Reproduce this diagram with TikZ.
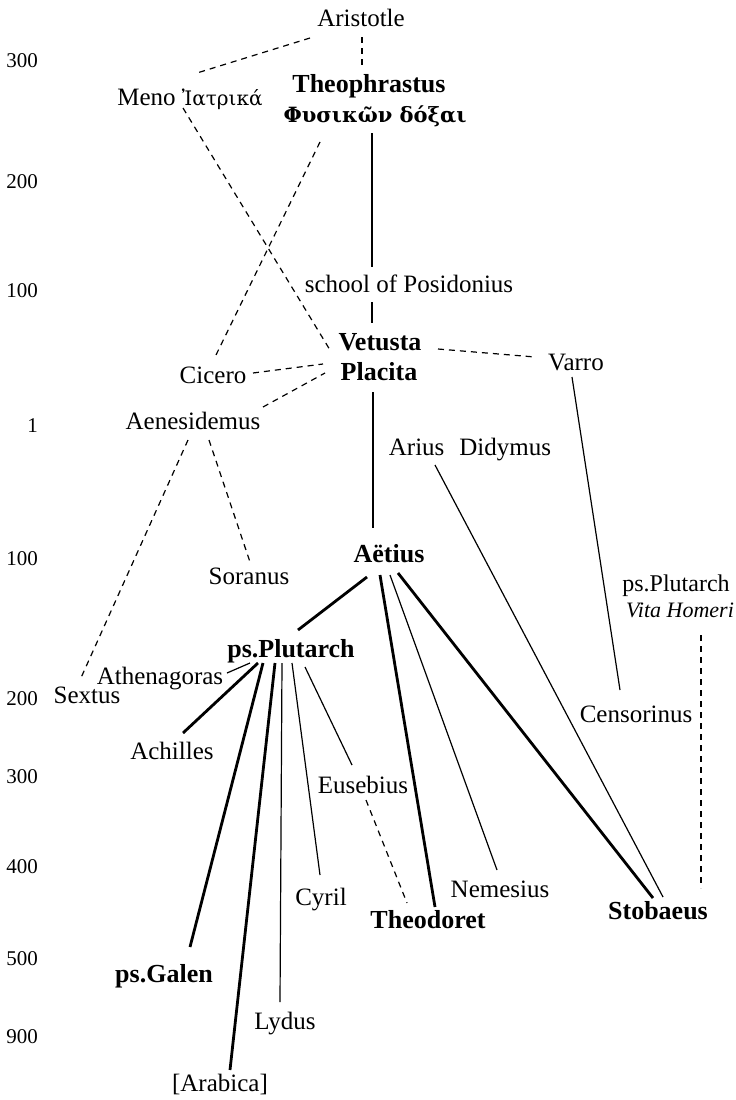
\documentclass[tikz,border=0pt]{standalone}
\usepackage{fontspec}
\setmainfont{Liberation Serif}
\newfontfamily\greekfont{DejaVu Serif}
\usetikzlibrary{positioning}

\begin{document}
\begin{tikzpicture}[x=1pt,y=-1pt,
    author/.style={anchor=base,inner sep=0pt,font=\fontsize{25}{30}\selectfont},
    mainsource/.style={anchor=base,inner sep=0pt,font=\fontsize{26}{31}\selectfont\bfseries},
    century/.style={anchor=base east,inner sep=0pt,font=\fontsize{21}{25}\selectfont},
    heavy/.style={line width=2.8pt},
    light/.style={line width=1.2pt},
    doubtful/.style={line width=1.2pt,dash pattern=on 6pt off 5pt}]
\useasboundingbox (0,0) rectangle (736,1100);

% centuries B.C. / A.D.
\foreach \yr/\ypos in {300/67,200/188,100/297,1/432,100/565,200/705,300/783,400/873,500/965,900/1043}
    \node[century] (yr\ypos) at (38,\ypos) {\yr};

% sources
\node[author] (aristotle) at (361,27) {Aristotle};
\node[author] (meno) at (190,105) {Meno {\greekfont\fontsize{20}{24}\selectfont Ἰατρικά}};
\node[mainsource] (theo) at (369,92) {Theophrastus};
\node[mainsource,font=\greekfont\fontsize{21}{25}\selectfont\bfseries] (theogr) at (375,122) {Φυσικῶν δόξαι};
\node[author] (school) at (409,292) {school of Posidonius};
\node[mainsource] (vetusta) at (380,350) {Vetusta};
\node[mainsource] (placita) at (379,380) {Placita};
\node[author] (cicero) at (213,383) {Cicero};
\node[author] (aenesidemus) at (193,429) {Aenesidemus};
\node[author] (varro) at (576,370) {Varro};
\node[author] (arius) at (470,455) {Arius\hspace{0.6em}Didymus};
\node[mainsource] (aetius) at (389,562) {Aëtius};
\node[author] (soranus) at (249,584) {Soranus};
\node[author,font=\fontsize{24}{28}\selectfont] (vitaauthor) at (676,591) {ps.Plutarch};
\node[author,font=\fontsize{22}{26}\selectfont\itshape] (vita) at (680,617) {Vita Homeri};
\node[mainsource] (psplutarch) at (291,657) {ps.Plutarch};
\node[author] (athenagoras) at (160,684) {Athenagoras};
\node[author] (sextus) at (87,703) {Sextus};
\node[author] (censorinus) at (636,722) {Censorinus};
\node[author] (achilles) at (172,759) {Achilles};
\node[author] (eusebius) at (363,793) {Eusebius};
\node[author] (cyril) at (321,905) {Cyril};
\node[author] (nemesius) at (500,897) {Nemesius};
\node[mainsource] (theodoret) at (428,928) {Theodoret};
\node[mainsource] (stobaeus) at (658,919) {Stobaeus};
\node[mainsource] (psgalen) at (164,982) {ps.Galen};
\node[author] (lydus) at (285,1029) {Lydus};
\node[author] (arabica) at (220,1091) {[Arabica]};

% uncertain dependence
\draw[doubtful] ([shift={(-51,11)}]aristotle.base) -- ([shift={(7,-32)}]meno.base);
\draw[doubtful] ([shift={(1,10)}]aristotle.base) -- ([shift={(-7,-27)}]theo.base);
\draw[doubtful] ([shift={(-7,3)}]meno.base) -- ([shift={(-50,0)}]vetusta.base);
\draw[doubtful] ([shift={(-55,20)}]theogr.base) -- ([shift={(2,-26)}]cicero.base);
\draw[doubtful] ([shift={(40,-10)}]cicero.base) -- ([shift={(-57,14)}]vetusta.base);
\draw[doubtful] ([shift={(70,-22)}]aenesidemus.base) -- ([shift={(-55,23)}]vetusta.base);
\draw[doubtful] ([shift={(58,-1)}]vetusta.base) -- ([shift={(-41,-13)}]varro.base);
\draw[doubtful] ([shift={(-5,11)}]aenesidemus.base) -- ([shift={(-7,-23)}]sextus.base);
\draw[doubtful] ([shift={(16,11)}]aenesidemus.base) -- ([shift={(1,-22)}]soranus.base);
\draw[doubtful] ([shift={(3,7)}]eusebius.base) -- ([shift={(-21,-25)}]theodoret.base);
\draw[doubtful] ([shift={(21,18)}]vita.base) -- ([shift={(43,-31)}]stobaeus.base);

% main line of tradition
\draw[heavy] ([shift={(-3,11)}]theogr.base) -- ([shift={(-37,-25)}]school.base);
\draw[heavy] ([shift={(-37,10)}]school.base) -- ([shift={(-8,-27)}]vetusta.base);
\draw[heavy] ([shift={(-6,12)}]placita.base) -- ([shift={(-16,-34)}]aetius.base);
\draw[heavy] ([shift={(-22,15)}]aetius.base) -- ([shift={(7,-27)}]psplutarch.base);
\draw[heavy] ([shift={(-9,13)}]aetius.base) -- ([shift={(7,-21)}]theodoret.base);
\draw[heavy] ([shift={(9,11)}]aetius.base) -- ([shift={(-5,-21)}]stobaeus.base);
\draw[heavy] ([shift={(-33,6)}]psplutarch.base) -- ([shift={(11,-26)}]achilles.base);
\draw[heavy] ([shift={(-28,6)}]psplutarch.base) -- ([shift={(26,-35)}]psgalen.base);
\draw[heavy] ([shift={(-16,6)}]psplutarch.base) -- ([shift={(10,-21)}]arabica.base);

% minor users
\draw[light] ([shift={(1,13)}]aetius.base) -- ([shift={(-3,-27)}]nemesius.base);
\draw[light] ([shift={(-35,10)}]arius.base) -- ([shift={(5,-22)}]stobaeus.base);
\draw[light] ([shift={(-4,7)}]varro.base) -- ([shift={(-16,-32)}]censorinus.base);
\draw[light] ([shift={(-41,6)}]psplutarch.base) -- ([shift={(67,-11)}]athenagoras.base);
\draw[light] ([shift={(-9,6)}]psplutarch.base) -- ([shift={(-5,-27)}]lydus.base);
\draw[light] ([shift={(1,6)}]psplutarch.base) -- ([shift={(-1,-30)}]cyril.base);
\draw[light] ([shift={(14,10)}]psplutarch.base) -- ([shift={(-11,-28)}]eusebius.base);
\end{tikzpicture}
\end{document}
